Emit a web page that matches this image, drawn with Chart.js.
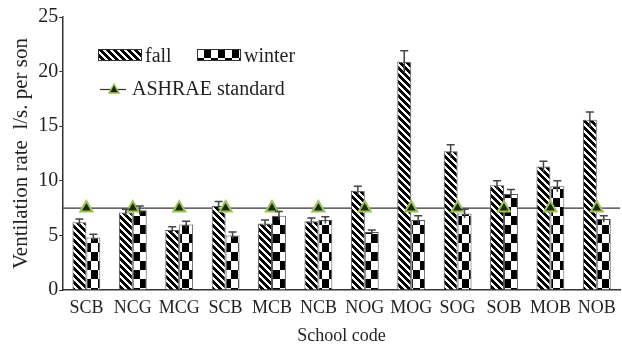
<!DOCTYPE html>
<html>
<head>
<meta charset="utf-8">
<script src="https://cdn.jsdelivr.net/npm/chart.js@4.4.0/dist/chart.umd.min.js"></script>
<style>
  body { margin: 0; background: #fff; }
  #wrap { position: relative; width: 622px; height: 344px; }
  .lg { position: absolute; font-family: "Liberation Serif", serif; font-size: 20px; color: #231f20; line-height: 1; white-space: nowrap; }
</style>
</head>
<body>
<div id="wrap">
  <canvas id="chart" width="622" height="344"></canvas>
  <canvas id="swFall" width="44" height="12" style="position:absolute;left:98px;top:49px;"></canvas>
  <div class="lg" style="left:145px;top:45px;">fall</div>
  <canvas id="swWinter" width="44" height="12" style="position:absolute;left:197px;top:49px;"></canvas>
  <div class="lg" style="left:244px;top:45px;">winter</div>
  <canvas id="swAsh" width="30" height="16" style="position:absolute;left:100px;top:81px;"></canvas>
  <div class="lg" style="left:132px;top:78px;">ASHRAE standard</div>
</div>
<script>
// School codes along the x axis
const schools = ['SCB', 'NCG', 'MCG', 'SCB', 'MCB', 'NCB', 'NOG', 'MOG', 'SOG', 'SOB', 'MOB', 'NOB'];

// Ventilation rate (l/s per person)
const fallValues   = [6.2, 7.1, 5.5, 7.7, 6.1, 6.3, 9.1, 20.9, 12.7, 9.6, 11.3, 15.6];
const winterValues = [4.8, 7.3, 6.0, 5.0, 6.8, 6.4, 5.3, 6.4, 7.0, 8.8, 9.5, 6.5];
const fallErr      = [0.3, 0.3, 0.3, 0.4, 0.3, 0.3, 0.4, 1.0, 0.6, 0.4, 0.5, 0.7];
const winterErr    = [0.3, 0.4, 0.3, 0.3, 0.4, 0.3, 0.2, 0.4, 0.4, 0.4, 0.5, 0.3];
const ashraeValue  = 7.5;
const ashraeValues = schools.map(() => ashraeValue);

const yTicks = [0, 5, 10, 15, 20, 25];

const textColor = '#231f20';
const serif = 'Liberation Serif';

// Hatch patterns, drawn pixel by pixel so they stay crisp
function stripePattern() {
    const n = 7;
    const c = document.createElement('canvas');
    c.width = n; c.height = n;
    const g = c.getContext('2d');
    g.fillStyle = '#fff';
    g.fillRect(0, 0, n, n);
    g.fillStyle = '#000';
    // "\" direction stripes
    for (let x = 0; x < n; x++) {
        for (let y = 0; y < n; y++) {
            if ((((x - y) % n) + n) % n < 4) g.fillRect(x, y, 1, 1);
        }
    }
    return g.createPattern(c, 'repeat');
}

function checkerPattern() {
    const c = document.createElement('canvas');
    c.width = 14; c.height = 18;
    const g = c.getContext('2d');
    g.fillStyle = '#fff';
    g.fillRect(0, 0, 14, 18);
    g.fillStyle = '#000';
    g.fillRect(7, 0, 7, 9);
    g.fillRect(0, 9, 7, 9);
    return g.createPattern(c, 'repeat');
}

const fallFill = stripePattern();
const winterFill = checkerPattern();

// Error bars for the bar datasets (cap on top only)
const errorBars = {
    id: 'errorBars',
    afterDatasetsDraw(chart) {
        const ctx = chart.ctx;
        const y = chart.scales.y;
        ctx.save();
        ctx.strokeStyle = '#444';
        ctx.lineWidth = 1.5;
        chart.data.datasets.forEach((ds, i) => {
            if (!ds.errors) return;
            const meta = chart.getDatasetMeta(i);
            meta.data.forEach((bar, j) => {
                const v = ds.data[j], e = ds.errors[j];
                const top = y.getPixelForValue(v + e);
                const bot = y.getPixelForValue(v - e);
                ctx.beginPath();
                ctx.moveTo(bar.x, top); ctx.lineTo(bar.x, bot);
                ctx.moveTo(bar.x - 4, top); ctx.lineTo(bar.x + 4, top);
                ctx.stroke();
            });
        });
        ctx.restore();
    }
};

// Standard line across the whole plot
const standardLine = {
    id: 'standardLine',
    beforeDatasetsDraw(chart) {
        const ctx = chart.ctx;
        const area = chart.chartArea;
        const yy = chart.scales.y.getPixelForValue(ashraeValue);
        ctx.save();
        ctx.strokeStyle = '#333';
        ctx.lineWidth = 1.2;
        ctx.beginPath();
        ctx.moveTo(area.left, yy);
        ctx.lineTo(area.right, yy);
        ctx.stroke();
        ctx.restore();
    }
};

const ctx = document.getElementById('chart').getContext('2d');
new Chart(ctx, {
    type: 'bar',
    data: {
        labels: schools,
        datasets: [
            {
                type: 'line',
                label: 'ASHRAE standard',
                data: ashraeValues,
                showLine: false,
                pointStyle: 'triangle',
                pointRadius: 7,
                backgroundColor: '#1f2a0a',
                borderColor: '#9cc35a',
                borderWidth: 2,
                order: 0
            },
            {
                label: 'fall',
                data: fallValues,
                errors: fallErr,
                backgroundColor: fallFill,
                borderColor: '#555',
                borderWidth: 1,
                order: 1
            },
            {
                label: 'winter',
                data: winterValues,
                errors: winterErr,
                backgroundColor: winterFill,
                borderColor: '#555',
                borderWidth: 1,
                order: 1
            }
        ]
    },
    options: {
        responsive: false,
        animation: false,
        layout: { autoPadding: false, padding: { top: 17, right: 2, left: 9, bottom: 6 } },
        datasets: { bar: { categoryPercentage: 0.6, barPercentage: 1.0 } },
        plugins: {
            legend: { display: false },
            tooltip: { enabled: false }
        },
        scales: {
            x: {
                afterFit(scale) {
                    scale.paddingLeft = 0;
                    scale.paddingRight = 0;
                },
                grid: { display: false, drawTicks: false },
                border: { color: '#333', width: 1.5 },
                ticks: {
                    color: textColor,
                    padding: 7,
                    autoSkip: false,
                    maxRotation: 0,
                    font: { family: serif, size: 18 }
                },
                title: {
                    display: true,
                    text: 'School code',
                    color: textColor,
                    padding: { top: 0, bottom: -9.2 },
                    font: { family: serif, size: 18 }
                }
            },
            y: {
                min: 0,
                max: 25,
                afterBuildTicks(axis) {
                    axis.ticks = yTicks.map(v => ({ value: v }));
                },
                afterFit(scale) {
                    scale.paddingTop = 0;
                    scale.paddingBottom = 0;
                },
                grid: { drawOnChartArea: false, drawTicks: true, tickLength: 4, color: '#333', width: 1.5 },
                border: { color: '#333', width: 1.5 },
                ticks: {
                    color: textColor,
                    padding: 1,
                    font: { family: serif, size: 20 }
                },
                title: {
                    display: true,
                    text: 'Ventilation rate  l/s. per son',
                    color: textColor,
                    padding: { top: 0, bottom: 3 },
                    font: { family: serif, size: 21 }
                }
            }
        }
    },
    plugins: [standardLine, errorBars]
});

// Legend swatches
function swatch(id, fill) {
    const c = document.getElementById(id);
    const g = c.getContext('2d');
    g.fillStyle = fill;
    g.fillRect(0, 0, c.width, c.height);
    g.strokeStyle = '#333';
    g.lineWidth = 1;
    g.strokeRect(0.5, 0.5, c.width - 1, c.height - 1);
}
swatch('swFall', fallFill);
swatch('swWinter', winterFill);

(function () {
    const c = document.getElementById('swAsh');
    const g = c.getContext('2d');
    g.strokeStyle = '#333';
    g.lineWidth = 1.2;
    g.beginPath();
    g.moveTo(0, 8.5); g.lineTo(26, 8.5);
    g.stroke();
    g.beginPath();
    g.moveTo(14, 3); g.lineTo(19, 12); g.lineTo(9, 12); g.closePath();
    g.fillStyle = '#1f2a0a';
    g.fill();
    g.strokeStyle = '#9cc35a';
    g.lineWidth = 1.5;
    g.stroke();
})();
</script>
</body>
</html>
